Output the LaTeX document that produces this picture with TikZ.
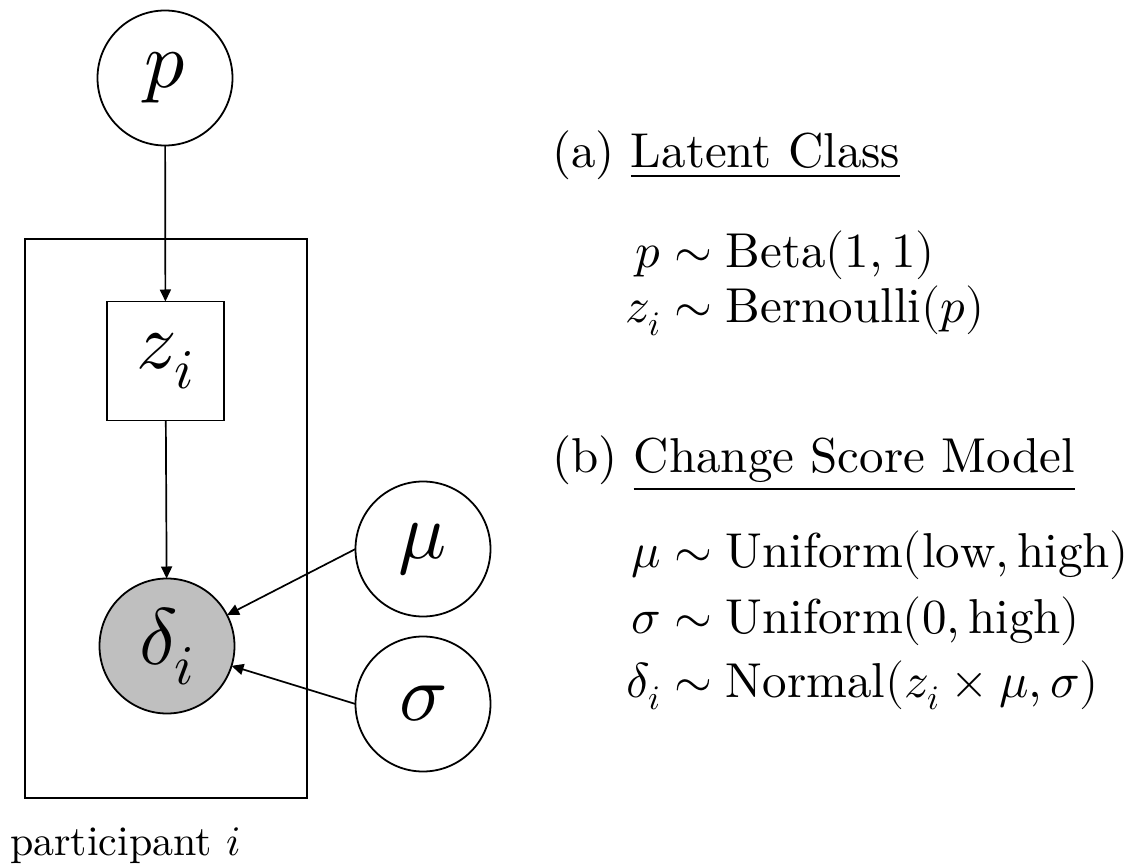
\documentclass[tikz,border=0pt]{standalone}
\usepackage{fontspec}
\usepackage{unicode-math}
\setmainfont{lmroman10-regular.otf}[ItalicFont=lmroman10-italic.otf,BoldFont=lmroman10-bold.otf]
\setmathfont{Latin Modern Math}
\usetikzlibrary{arrows.meta}
\definecolor{obsgray}{RGB}{191,191,191}
\newcommand\eqrow[2]{\makebox[0.75em][r]{$#1$}${}\sim #2$}
\begin{document}
\begin{tikzpicture}[x=1pt,y=-1pt,
  every node/.style={inner sep=0pt,outer sep=0pt},
  latent/.style={circle,draw,line width=1.8pt,minimum size=135pt,font=\fontsize{80}{96}\selectfont},
  obs/.style={latent,fill=obsgray},
  detbox/.style={rectangle,draw,line width=1.8pt,minimum width=117pt,minimum height=119pt,font=\fontsize{80}{96}\selectfont},
  platebox/.style={rectangle,draw,line width=1.8pt,minimum width=282pt,minimum height=559pt},
  edge/.style={-{Triangle[length=12pt,width=11pt]},line width=1.7pt},
  eqtext/.style={anchor=base west,font=\fontsize{49}{59}\selectfont},
  platelabel/.style={anchor=base west,font=\fontsize{42}{50}\selectfont}]
\useasboundingbox (0,0) rectangle (1146,866);
\node[platebox] (plate) at (166,518.5) {};
\node[latent] (p) at (165,78) {$p$};
\node[detbox,fill=white] (z) at (165.5,361) {$z_i$};
\node[obs] (delta) at (167,646) {$\delta_i$};
\node[latent] (mu) at (423,549) {$\mu$};
\node[latent] (sigma) at (423,704) {$\sigma$};
\node[platelabel] (plabel) at (10,855) {participant $i$};
\draw[edge] (p) -- (z);
\draw[edge] (z) -- (delta);
\draw[edge] (mu.west) -- (delta);
\draw[edge] (sigma.west) -- (delta);
\node[eqtext] (ha) at (552,168) {(a) \underline{Latent Class}};
\node[eqtext] (a1) at (624,268) {\eqrow{p}{\mathrm{Beta}(1,1)}};
\node[eqtext] (a2) at (624,323) {\eqrow{z_i}{\mathrm{Bernoulli}(p)}};
\node[eqtext] (hb) at (552,472) {(b) \underline{Change Score Model}};
\node[eqtext] (b1) at (624,567) {\eqrow{\mu}{\mathrm{Uniform}(\mathrm{low},\mathrm{high})}};
\node[eqtext] (b2) at (624,633) {\eqrow{\sigma}{\mathrm{Uniform}(0,\mathrm{high})}};
\node[eqtext] (b3) at (624,697) {\eqrow{\delta_i}{\mathrm{Normal}(z_i\times\mu,\sigma)}};
\end{tikzpicture}
\end{document}
